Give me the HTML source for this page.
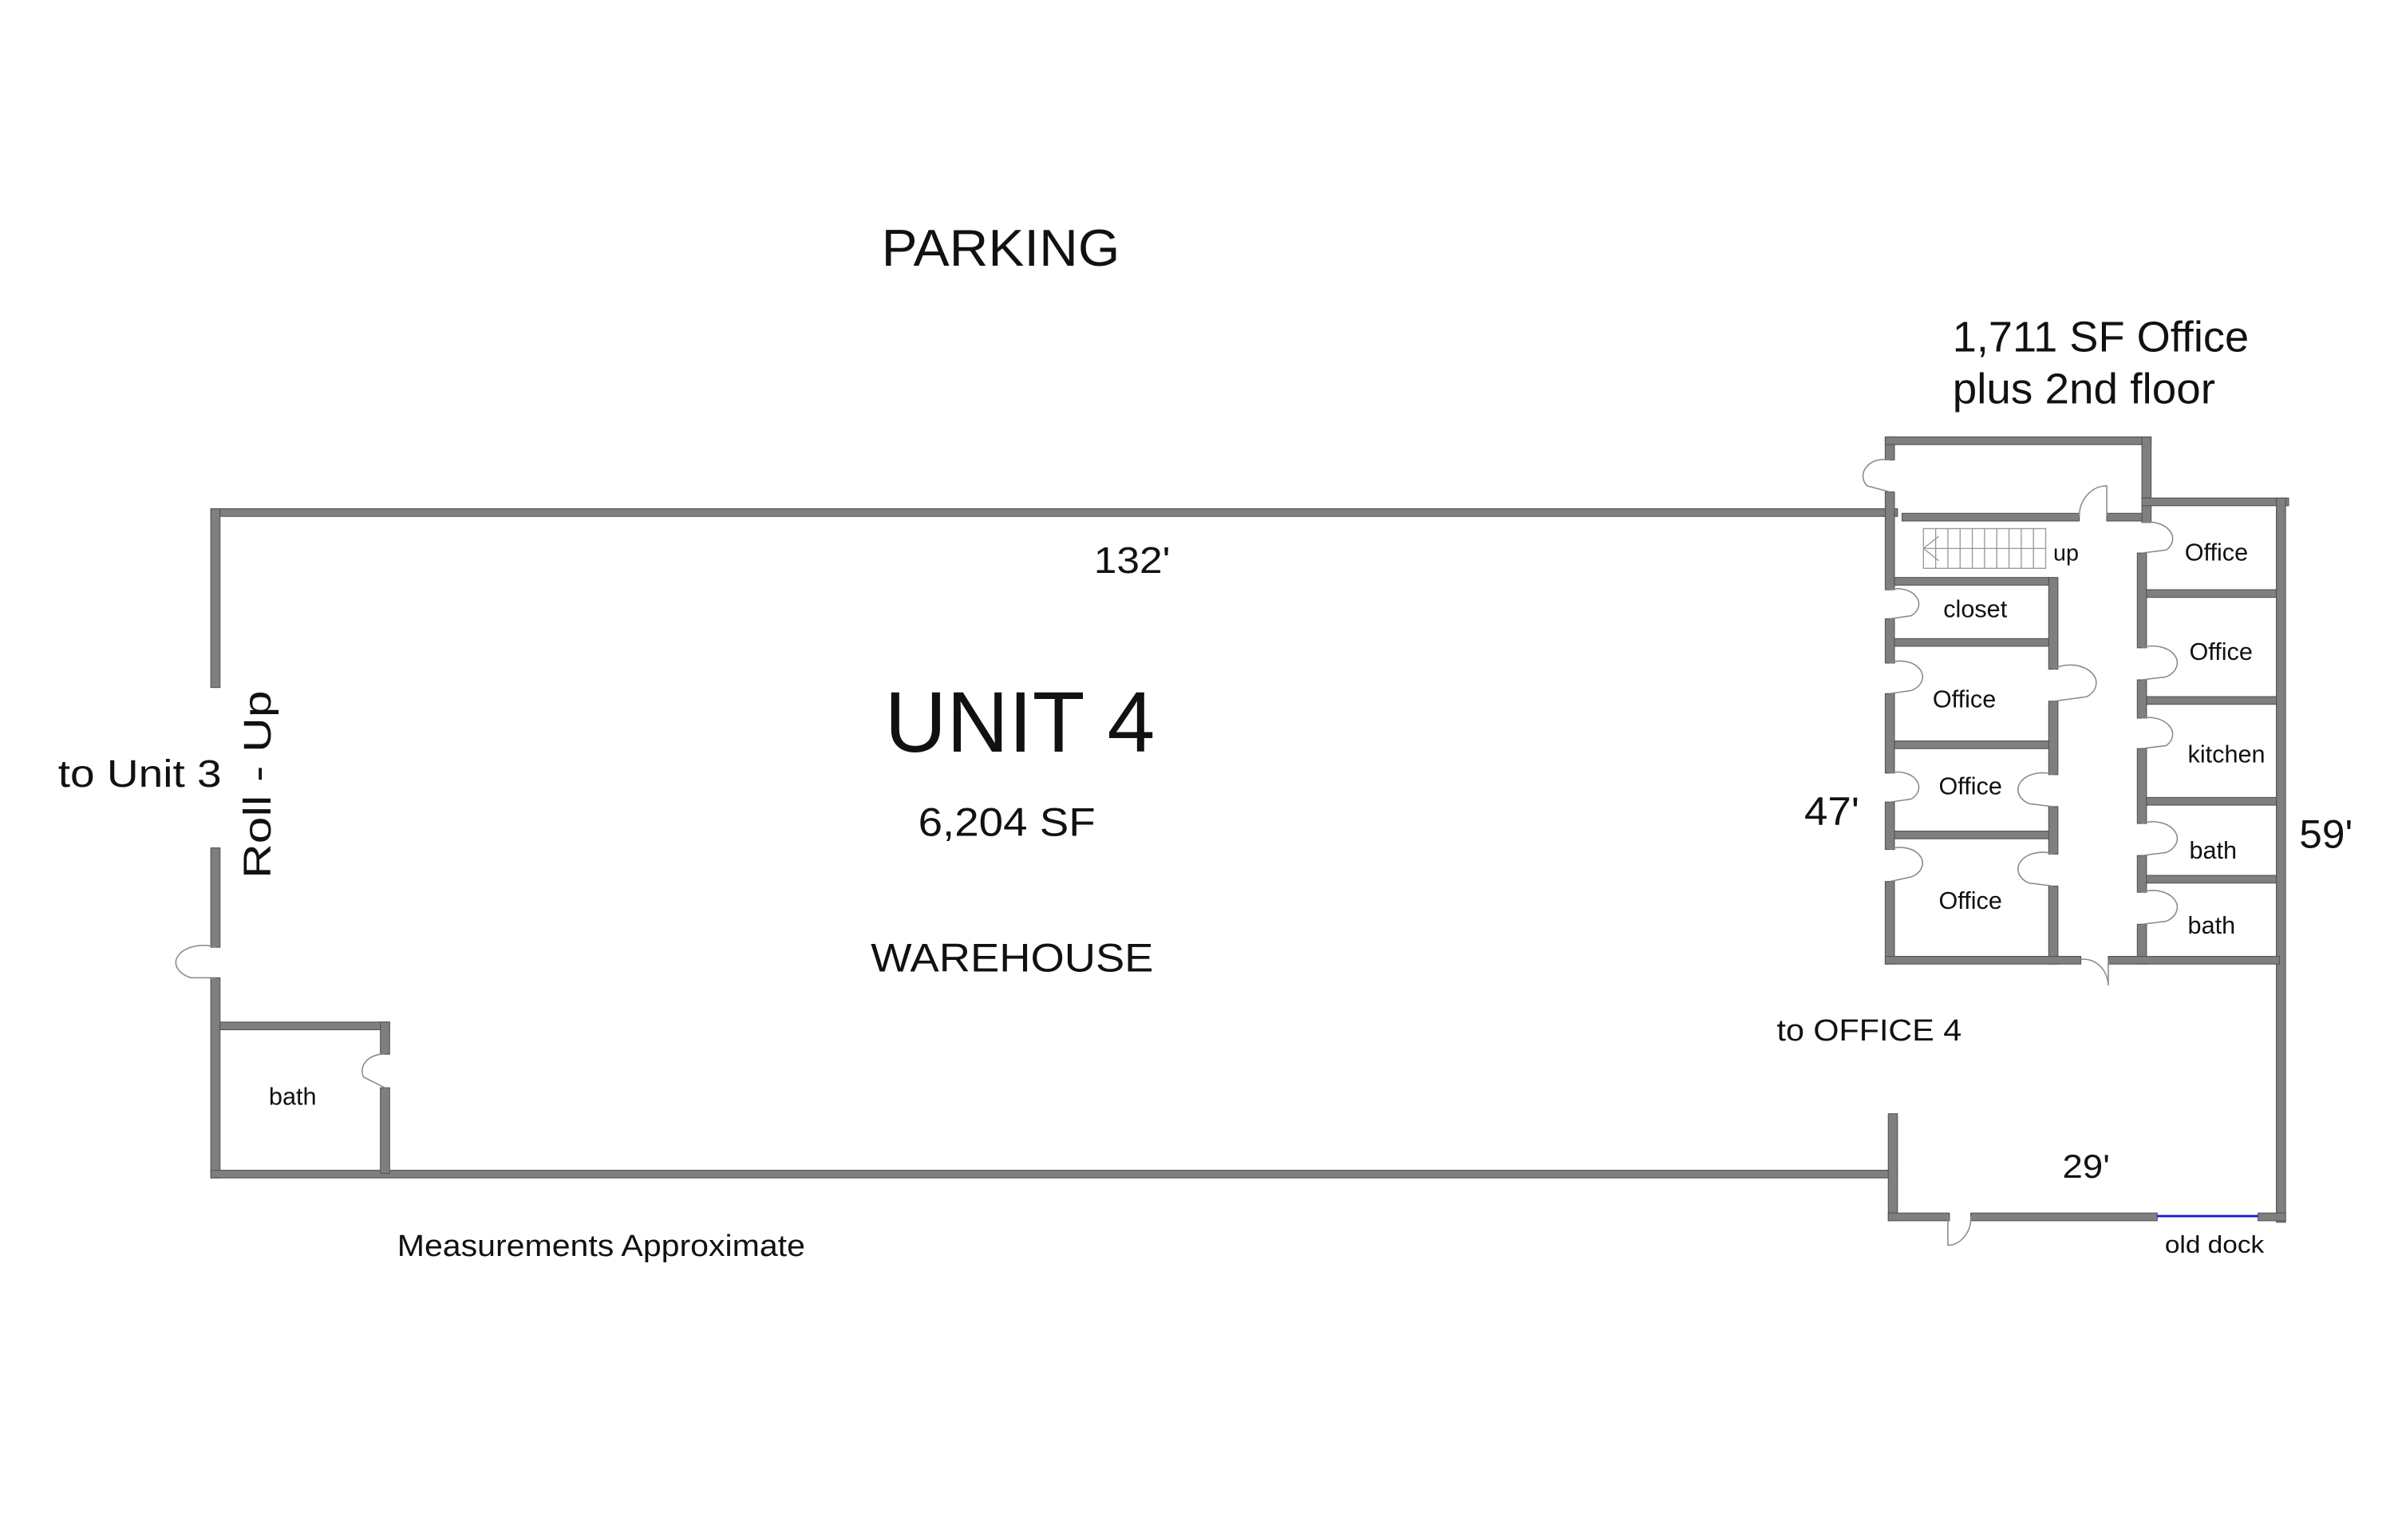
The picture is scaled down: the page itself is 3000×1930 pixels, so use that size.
<!DOCTYPE html>
<html><head><meta charset="utf-8"><style>
html,body{margin:0;padding:0;background:#fff;}
svg{display:block;}
text{font-family:"Liberation Sans",Arial,sans-serif;fill:#111;}
</style></head><body>
<svg width="3000" height="1930" viewBox="0 0 1567 1008" preserveAspectRatio="none" xmlns="http://www.w3.org/2000/svg">
<rect x="0" y="0" width="1567" height="1008" fill="#fff"/>
<g fill="#7f7f7f" stroke="#555" stroke-width="0.6">
<rect x="138" y="333" width="1104" height="5"/>
<rect x="138" y="333" width="6" height="117"/>
<rect x="138" y="555" width="6" height="65"/>
<rect x="138" y="640" width="6" height="131"/>
<rect x="138" y="766" width="1104" height="5"/>
<rect x="144" y="669" width="111" height="5"/>
<rect x="249" y="669" width="6" height="21"/>
<rect x="249" y="712" width="6" height="56"/>
<rect x="1234" y="286" width="6" height="15"/>
<rect x="1234" y="322" width="6" height="64"/>
<rect x="1234" y="405" width="6" height="29"/>
<rect x="1234" y="454" width="6" height="52"/>
<rect x="1234" y="525" width="6" height="31"/>
<rect x="1234" y="577" width="6" height="54"/>
<rect x="1234" y="286" width="174" height="5"/>
<rect x="1402" y="286" width="6" height="56"/>
<rect x="1245" y="336" width="116" height="5"/>
<rect x="1379" y="336" width="23" height="5"/>
<rect x="1402" y="326" width="96" height="5"/>
<rect x="1490" y="326" width="6" height="474"/>
<rect x="1399" y="362" width="6" height="62"/>
<rect x="1399" y="445" width="6" height="25"/>
<rect x="1399" y="490" width="6" height="49"/>
<rect x="1399" y="560" width="6" height="24"/>
<rect x="1399" y="605" width="6" height="26"/>
<rect x="1405" y="386" width="85" height="5"/>
<rect x="1405" y="456" width="85" height="5"/>
<rect x="1405" y="522" width="85" height="5"/>
<rect x="1405" y="573" width="85" height="5"/>
<rect x="1341" y="378" width="6" height="60"/>
<rect x="1341" y="459" width="6" height="48"/>
<rect x="1341" y="528" width="6" height="31"/>
<rect x="1341" y="580" width="6" height="51"/>
<rect x="1240" y="378" width="101" height="5"/>
<rect x="1240" y="418" width="101" height="5"/>
<rect x="1240" y="485" width="101" height="5"/>
<rect x="1240" y="544" width="101" height="5"/>
<rect x="1234" y="626" width="128" height="5"/>
<rect x="1380" y="626" width="112" height="5"/>
<rect x="1236" y="729" width="6" height="70"/>
<rect x="1236" y="794" width="40" height="5"/>
<rect x="1290" y="794" width="122" height="5"/>
<rect x="1478" y="794" width="18" height="5"/>
</g>
<line x1="1412" y1="796" x2="1478" y2="796" stroke="#1a1ad8" stroke-width="1.5"/>
<g fill="none" stroke="#888" stroke-width="0.8">
<path d="M141,620 A16 10 0 0 0 125,640 L141,640"/>
<path d="M252,690 A14 11 0 0 0 238,705 L252,712"/>
<path d="M1237,301 A14 11 0 0 0 1222,318 L1237,322"/>
<path d="M1361,338 A18 20 0 0 1 1379,318 L1379,338"/>
<path d="M1237,386 A14 10 0 0 1 1251,403 L1237,405"/>
<path d="M1237,434 A14 10 0 0 1 1251,452 L1237,454"/>
<path d="M1237,506 A14 10 0 0 1 1251,523 L1237,525"/>
<path d="M1237,556 A14 10 0 0 1 1251,574 L1237,577"/>
<path d="M1344,438 A16 11 0 0 1 1366,456 L1344,459"/>
<path d="M1344,507 A16 11 0 0 0 1328,526 L1344,528"/>
<path d="M1344,559 A16 11 0 0 0 1328,578 L1344,580"/>
<path d="M1402,342 A16 11 0 0 1 1418,360 L1402,362"/>
<path d="M1402,424 A16 11 0 0 1 1418,443 L1402,445"/>
<path d="M1402,470 A16 11 0 0 1 1418,488 L1402,490"/>
<path d="M1402,539 A16 11 0 0 1 1418,558 L1402,560"/>
<path d="M1402,584 A16 11 0 0 1 1418,603 L1402,605"/>
<path d="M1362,628 A16 18 0 0 1 1380,645 L1380,628"/>
<path d="M1290,796 A15 18 0 0 1 1275,815 L1275,796"/>
</g>
<g fill="none" stroke="#999" stroke-width="0.7">
<rect x="1259" y="346" width="80" height="26"/>
<line x1="1259" y1="359" x2="1339" y2="359"/>
<path d="M1259,359 L1269,351 M1259,359 L1269,367"/>
<line x1="1267" y1="346" x2="1267" y2="372"/><line x1="1275" y1="346" x2="1275" y2="372"/>
<line x1="1283" y1="346" x2="1283" y2="372"/><line x1="1291" y1="346" x2="1291" y2="372"/>
<line x1="1299" y1="346" x2="1299" y2="372"/><line x1="1307" y1="346" x2="1307" y2="372"/>
<line x1="1315" y1="346" x2="1315" y2="372"/><line x1="1323" y1="346" x2="1323" y2="372"/>
<line x1="1331" y1="346" x2="1331" y2="372"/>
</g>
<text x="577" y="174" font-size="34" textLength="156" lengthAdjust="spacingAndGlyphs">PARKING</text>
<text x="1278" y="230" font-size="28" textLength="194" lengthAdjust="spacingAndGlyphs">1,711 SF Office</text>
<text x="1278" y="264" font-size="28" textLength="172" lengthAdjust="spacingAndGlyphs">plus 2nd floor</text>
<text x="716" y="375" font-size="24" textLength="50" lengthAdjust="spacingAndGlyphs">132'</text>
<text x="579" y="492" font-size="56" textLength="177" lengthAdjust="spacingAndGlyphs">UNIT 4</text>
<text x="601" y="547" font-size="26" textLength="116" lengthAdjust="spacingAndGlyphs">6,204 SF</text>
<text x="570" y="636" font-size="26" textLength="185" lengthAdjust="spacingAndGlyphs">WAREHOUSE</text>
<text x="38" y="515" font-size="25" textLength="107" lengthAdjust="spacingAndGlyphs">to Unit 3</text>
<text transform="translate(177,575) rotate(-90)" font-size="25" textLength="123" lengthAdjust="spacingAndGlyphs">Roll - Up</text>
<text x="1181" y="540" font-size="26" textLength="36" lengthAdjust="spacingAndGlyphs">47'</text>
<text x="1505" y="555" font-size="26" textLength="35" lengthAdjust="spacingAndGlyphs">59'</text>
<text x="1163" y="681" font-size="20" textLength="121" lengthAdjust="spacingAndGlyphs">to OFFICE 4</text>
<text x="1350" y="771" font-size="22" textLength="31" lengthAdjust="spacingAndGlyphs">29'</text>
<text x="1417" y="820" font-size="16" textLength="65" lengthAdjust="spacingAndGlyphs">old dock</text>
<text x="260" y="822" font-size="20" textLength="267" lengthAdjust="spacingAndGlyphs">Measurements Approximate</text>
<text x="176" y="723" font-size="16">bath</text>
<g font-size="16">
<text x="1272" y="404">closet</text>
<text x="1265" y="463">Office</text>
<text x="1269" y="520">Office</text>
<text x="1269" y="595">Office</text>
<text x="1430" y="367">Office</text>
<text x="1433" y="432">Office</text>
<text x="1432" y="499">kitchen</text>
<text x="1433" y="562">bath</text>
<text x="1432" y="611">bath</text>
<text x="1344" y="367" font-size="15">up</text>
</g>
</svg>
</body></html>
